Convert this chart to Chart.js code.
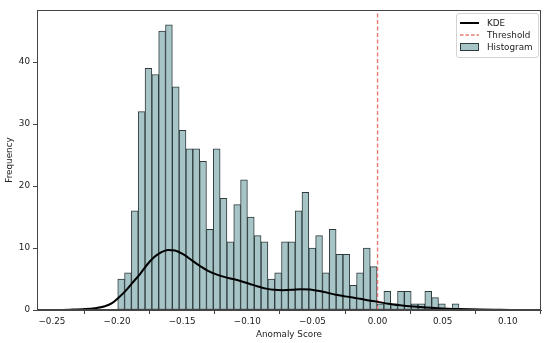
<!DOCTYPE html>
<html>
<head>
<meta charset="utf-8">
<script src="https://cdn.jsdelivr.net/npm/chart.js@4/dist/chart.umd.min.js"></script>
<style>
html,body{margin:0;padding:0;background:#fff;}
#wrap{position:relative;width:550px;height:343px;}
#legend{position:absolute;left:456px;top:13px;width:83px;height:45px;border:1px solid #d3d3d3;border-radius:3px;background:rgba(255,255,255,0.85);box-sizing:border-box;font-family:'DejaVu Sans',sans-serif;font-size:8.8px;color:#222;}
.row{position:absolute;left:3px;height:12px;display:flex;align-items:center;}
.row svg{display:block;margin-right:8px;}
</style>
</head>
<body>
<div id="wrap">
<canvas id="c" width="550" height="343"></canvas>
<div id="legend">
  <div class="row" style="top:3px"><svg width="19" height="8"><line x1="0" y1="4" x2="19" y2="4" stroke="#000" stroke-width="2"/></svg><span>KDE</span></div>
  <div class="row" style="top:15px"><svg width="19" height="8"><line x1="0" y1="4" x2="19" y2="4" stroke="#ea7a70" stroke-width="1.4" stroke-dasharray="3.5,2"/></svg><span>Threshold</span></div>
  <div class="row" style="top:27px"><svg width="19" height="8"><rect x="0.5" y="0.5" width="18" height="7" fill="#a7c4c6" stroke="#2f3b3c" stroke-width="1"/></svg><span>Histogram</span></div>
</div>
</div>
<script>
// ---- data ----
const binStart = -0.1995;
const binEnd = 0.0625;
const counts = [5,6,16,32,39,38,45,46,36,29,26,26,24,13,26,18,11,17,21,15,12,11,5,6,11,11,16,19,10,12,6,13,9,9,4,6,10,7,1,3,1,3,3,1,1,3,2,1,0,1];
const kdeX = [-0.2454,-0.2362,-0.2247,-0.2170,-0.2093,-0.2039,-0.1993,-0.1939,-0.1886,-0.1824,-0.1770,-0.1717,-0.1663,-0.1609,-0.1555,-0.1494,-0.1425,-0.1363,-0.1302,-0.1233,-0.1171,-0.1110,-0.1041,-0.0979,-0.0918,-0.0856,-0.0795,-0.0726,-0.0657,-0.0588,-0.0518,-0.0457,-0.0388,-0.0319,-0.0250,-0.0173,-0.0096,-0.0004,0.0081,0.0173,0.0273,0.0380,0.0495,0.0634,0.0787,0.0941,0.1071];
const kdeY = [0,0.05,0.15,0.3,0.6,1.1,1.9,3.0,4.3,5.8,7.3,8.5,9.3,9.7,9.6,9.0,8.0,7.1,6.3,5.7,5.3,5.0,4.6,4.2,3.8,3.45,3.25,3.2,3.25,3.35,3.3,3.1,2.8,2.45,2.2,1.95,1.65,1.35,1.0,0.75,0.55,0.4,0.25,0.15,0.07,0.03,0];
const threshold = 0.0;
const xTicks = [-0.25,-0.20,-0.15,-0.10,-0.05,0.00,0.05,0.10];
const yTicks = [0,10,20,30,40];
const xRange = [-0.2615, 0.1255];
const yRange = [0, 48.4];

// ---- build library tables ----
const binW = (binEnd - binStart) / counts.length;
const histData = counts.map((c,i) => ({x: binStart + (i + 0.5) * binW, y: c}));
const kdeData = kdeX.map((x,i) => ({x: x, y: kdeY[i]}));
const thrData = [{x: threshold, y: yRange[0]}, {x: threshold, y: yRange[1]}];

const FONT = {family: "'DejaVu Sans', sans-serif", size: 8.8};
const TXT = '#222';
const AX = '#444';
const fmtX = v => (Math.abs(v) < 1e-9 ? '0.00' : (v < 0 ? '\u2212' : '') + Math.abs(v).toFixed(2));

const frame = {
  id: 'frame',
  afterDraw(chart) {
    const a = chart.chartArea, ctx = chart.ctx;
    ctx.save();
    ctx.strokeStyle = AX; ctx.lineWidth = 1;
    ctx.strokeRect(Math.round(a.left) + 0.5, Math.round(a.top) + 0.5, Math.round(a.right - a.left) - 1, Math.round(a.bottom - a.top) - 1);
    ctx.restore();
  }
};

new Chart(document.getElementById('c'), {
  type: 'bar',
  data: {
    datasets: [
      {type: 'line', label: 'KDE', data: kdeData, borderColor: '#000', borderWidth: 2, pointRadius: 0, cubicInterpolationMode: 'monotone', fill: false, order: 1},
      {type: 'line', label: 'Threshold', data: thrData, borderColor: '#ea7a70', borderWidth: 1.4, borderDash: [4, 2.5], pointRadius: 0, fill: false, order: 2},
      {type: 'bar', label: 'Histogram', data: histData, backgroundColor: '#a7c4c6', borderColor: '#2f3b3c', borderWidth: 1, borderSkipped: false, barPercentage: 1, categoryPercentage: 1, order: 3}
    ]
  },
  options: {
    responsive: false,
    animation: false,
    layout: {padding: {left: 0, right: 9, top: 10, bottom: 0}},
    plugins: {legend: {display: false}, tooltip: {enabled: false}},
    scales: {
      x: {
        type: 'linear', min: xRange[0], max: xRange[1], offset: false,
        afterBuildTicks: s => { s.ticks = xTicks.map(v => ({value: v})); },
        afterFit: s => { s.height = 33; },
        ticks: {autoSkip: false, maxRotation: 0, padding: 2, color: TXT, font: FONT, callback: v => fmtX(v)},
        grid: {drawOnChartArea: false, drawTicks: true, tickLength: 4, color: AX},
        border: {display: true, color: AX, width: 1},
        title: {display: true, text: 'Anomaly Score', color: TXT, font: FONT, padding: {top: 0, bottom: 3}}
      },
      y: {
        type: 'linear', min: yRange[0], max: yRange[1],
        afterBuildTicks: s => { s.ticks = yTicks.map(v => ({value: v})); },
        afterFit: s => { s.width = 37; },
        ticks: {padding: 3, color: TXT, font: FONT, callback: v => String(v)},
        grid: {drawOnChartArea: false, drawTicks: true, tickLength: 4, color: AX},
        border: {display: true, color: AX, width: 1},
        title: {display: true, text: 'Frequency', color: TXT, font: FONT, padding: {top: 4, bottom: 0}}
      }
    }
  },
  plugins: [frame]
});
</script>
</body>
</html>
